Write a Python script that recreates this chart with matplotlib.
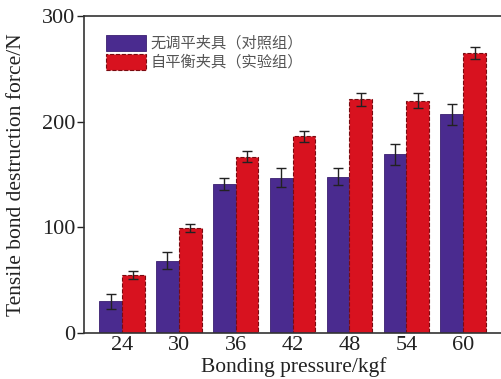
import matplotlib
matplotlib.use("Agg")
import matplotlib.pyplot as plt
import numpy as np

categories = ["24", "30", "36", "42", "48", "54", "60"]
control_vals = [30, 68.5, 141, 147, 148, 169, 207]
control_err = [7, 8, 6, 9, 8, 10, 10]
self_vals = [55, 99.5, 167, 186, 221, 220, 265]
self_err = [4, 4, 5, 5, 6, 7, 6]
legend_labels = ["无调平夹具（对照组）", "自平衡夹具（实验组）"]
yticks = [0, 100, 200, 300]

plt.rcParams['font.family'] = ['Liberation Serif', 'DejaVu Serif']

fig = plt.figure(figsize=(5.02, 3.79), dpi=100)
ax = fig.add_axes([84/502, 1 - 333/379, 1 - 84/502 + 0.002, (333 - 16)/379])

x = np.arange(len(categories))
w = 0.4
blue = "#4a2b8f"
red = "#d8121f"
ax.bar(x - w/2, control_vals, w, color=blue, edgecolor="#3a1f70", linewidth=0.6,
       yerr=control_err, error_kw=dict(ecolor="#222222", elinewidth=1, capsize=3.5, capthick=1),
       label=legend_labels[0])
ax.bar(x + w/2, self_vals, w, color=red, edgecolor="#7a0a10", linewidth=0.8, linestyle="--",
       yerr=self_err, error_kw=dict(ecolor="#222222", elinewidth=1, capsize=3.5, capthick=1),
       label=legend_labels[1])

ax.set_xlim(-0.667, 6.7)
ax.set_ylim(0, 300)
ax.set_xticks(x)
ax.set_xticklabels(categories)
ax.set_yticks(yticks)
ax.tick_params(axis='x', length=0, labelsize=16, pad=2, colors="#222222")
ax.tick_params(axis='y', length=5, width=1, direction='out', labelsize=16, pad=1, colors="#222222")
for s in ["left", "bottom", "top"]:
    ax.spines[s].set_linewidth(1.2)
    ax.spines[s].set_color("#333333")
ax.spines["right"].set_visible(False)

ax.set_xlabel("Bonding pressure/kgf", fontsize=15.5, color="#222222", va="center")
ax.xaxis.set_label_coords(0.5, -0.107)
ax.set_ylabel("Tensile bond destruction force/N", fontsize=15.5, color="#222222", va="center")
ax.yaxis.set_label_coords(-(84 - 17) / 418, 0.5)

leg = ax.legend(loc="upper left", bbox_to_anchor=(0.02, 0.985), frameon=False,
                handlelength=2.6, handleheight=1.25, handletextpad=0.3, labelspacing=0.12,
                prop={'family': ['Noto Sans CJK SC', 'DejaVu Sans'], 'size': 11})
for t in leg.get_texts():
    t.set_color("#555555")

fig.savefig("out.png", dpi=100)
